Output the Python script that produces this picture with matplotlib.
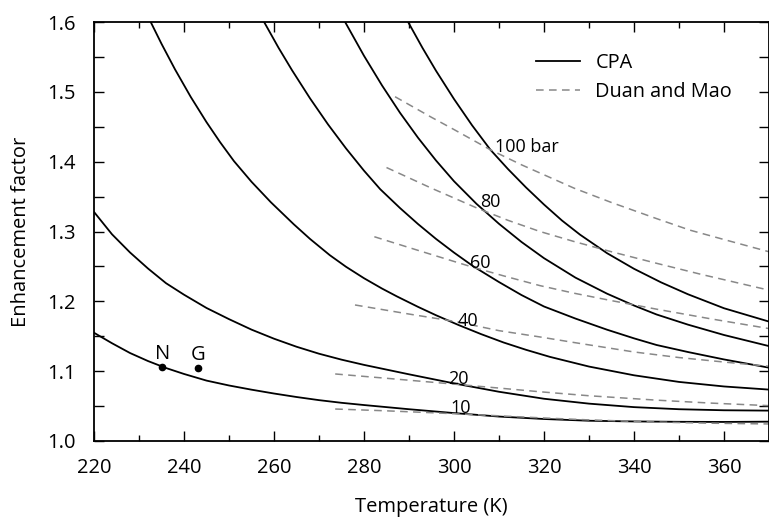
import matplotlib
matplotlib.use("Agg")
import matplotlib.pyplot as plt
from matplotlib.ticker import MultipleLocator, FormatStrFormatter

# -------------------------------
# DATA
# -------------------------------
# CPA curves: temperature (K) vs enhancement factor
cpa_10_T = [220, 224, 228, 232, 236, 240, 245, 250, 255, 260, 265, 270, 275, 280,
            290, 300, 310, 320, 330, 340, 350, 360, 370]
cpa_10_E = [1.155, 1.140, 1.126, 1.1145, 1.1045, 1.096, 1.0865, 1.0795, 1.0735, 1.068,
            1.063, 1.0585, 1.0547, 1.0515, 1.0455, 1.040, 1.035, 1.0315, 1.029, 1.028,
            1.0275, 1.0273, 1.0277]

cpa_20_T = [220, 224, 228, 232, 236, 240, 245, 250, 255, 260, 265, 270, 275, 280,
            290, 300, 310, 320, 330, 340, 350, 360, 370]
cpa_20_E = [1.328, 1.296, 1.270, 1.247, 1.226, 1.2095, 1.1905, 1.1745, 1.1595, 1.1465,
            1.135, 1.125, 1.1165, 1.109, 1.0955, 1.0825, 1.0705, 1.0605, 1.0535, 1.0485,
            1.0455, 1.044, 1.0435]

cpa_40_T = [232.6, 235, 238, 241.5, 245, 248, 251.1, 255, 259.3, 264.4, 268, 272.4,
            276, 280, 284, 287.3, 292, 296, 301, 306, 311, 316, 321.3, 330, 340, 350,
            360, 370]
cpa_40_E = [1.600, 1.5688, 1.5322, 1.4927, 1.4566, 1.4281, 1.4008, 1.3712, 1.3419,
            1.3103, 1.2894, 1.2661, 1.2495, 1.2331, 1.2183, 1.2071, 1.1921, 1.1801,
            1.1661, 1.1531, 1.1411, 1.1306, 1.1205, 1.1066, 1.0941, 1.0846, 1.0781,
            1.0736]

cpa_60_T = [257.8, 261, 264, 268, 272, 276, 280, 283.6, 288, 292, 296, 300, 304.3,
            310, 315, 320, 327, 334, 340, 345, 352, 360, 370]
cpa_60_E = [1.600, 1.5632, 1.531, 1.4907, 1.4534, 1.419, 1.3871, 1.3606, 1.3336,
            1.3107, 1.2894, 1.2698, 1.2501, 1.2276, 1.209, 1.1926, 1.1753, 1.1594,
            1.147, 1.1375, 1.1274, 1.1168, 1.105]

cpa_80_T = [275.8, 280, 284, 288, 292, 296, 300, 305, 310, 315, 320, 327, 334, 340,
            345, 352, 360, 370]
cpa_80_E = [1.600, 1.5516, 1.5092, 1.470, 1.4343, 1.4017, 1.372, 1.3396, 1.311, 1.285,
            1.2618, 1.2339, 1.211, 1.194, 1.1812, 1.1666, 1.1518, 1.1359]

cpa_100_T = [289.8, 293, 296, 300, 304, 308.1, 312, 316, 320, 324, 328, 334, 340,
             346, 352, 360, 370]
cpa_100_E = [1.600, 1.5629, 1.5302, 1.4897, 1.4522, 1.417, 1.3894, 1.3631, 1.3386,
             1.3157, 1.2955, 1.269, 1.2466, 1.2272, 1.2101, 1.1901, 1.171]

# Duan and Mao curves
dm_10_T = [273.6, 285, 294.7, 305, 319.1, 330, 345, 357, 370]
dm_10_E = [1.0458, 1.0432, 1.0406, 1.0376, 1.0332, 1.0302, 1.0271, 1.0255, 1.0244]

dm_20_T = [273.6, 285, 297.6, 310, 319.1, 330, 345, 357, 370]
dm_20_E = [1.096, 1.0898, 1.0828, 1.0758, 1.0705, 1.0648, 1.0585, 1.0543, 1.0506]

dm_40_T = [278, 290, 300.4, 310, 319.1, 326.7, 340, 350, 360.6, 370]
dm_40_E = [1.1948, 1.1818, 1.171, 1.158, 1.149, 1.141, 1.1275, 1.1195, 1.1127, 1.107]

dm_60_T = [282.3, 292, 303.7, 311, 319.1, 326.7, 335, 345, 357, 370]
dm_60_E = [1.2925, 1.273, 1.2498, 1.2365, 1.2225, 1.2116, 1.201, 1.1888, 1.175, 1.161]

dm_80_T = [285, 295, 305.2, 312, 319.1, 326.7, 335, 345, 355, 370]
dm_80_E = [1.3916, 1.362, 1.3333, 1.316, 1.300, 1.2856, 1.271, 1.2545, 1.2385, 1.216]

dm_100_T = [286.9, 295, 300, 308.1, 315, 326.7, 335, 345, 352.4, 360, 370]
dm_100_E = [1.493, 1.4635, 1.446, 1.417, 1.3955, 1.362, 1.3415, 1.3185, 1.302, 1.2885, 1.271]

pressure_labels = ["10", "20", "40", "60", "80", "100 bar"]
label_T = [299.1, 298.7, 300.8, 303.6, 305.8, 309.1]
label_E = [1.0473, 1.0893, 1.172, 1.255, 1.342, 1.421]

point_names = ["N", "G"]
point_T = [235.2, 243.2]
point_E = [1.106, 1.105]

# -------------------------------
# FIGURE
# -------------------------------
plt.rcParams["font.family"] = ["Open Sans", "DejaVu Sans"]
plt.rcParams["font.size"] = 14

fig = plt.figure(figsize=(7.69, 5.17), dpi=100)
ax = fig.add_axes([94 / 769, 1 - 441 / 517, 1 - 94 / 769, (441 - 22) / 517])

cpa = [(cpa_10_T, cpa_10_E), (cpa_20_T, cpa_20_E), (cpa_40_T, cpa_40_E),
       (cpa_60_T, cpa_60_E), (cpa_80_T, cpa_80_E), (cpa_100_T, cpa_100_E)]
dm = [(dm_10_T, dm_10_E), (dm_20_T, dm_20_E), (dm_40_T, dm_40_E),
      (dm_60_T, dm_60_E), (dm_80_T, dm_80_E), (dm_100_T, dm_100_E)]

for i, (t, e) in enumerate(cpa):
    ax.plot(t, e, color="black", lw=1.3, label="CPA" if i == 0 else None)
for i, (t, e) in enumerate(dm):
    ax.plot(t, e, color="#888888", lw=1.1, ls=(0, (5, 3.5)),
            label="Duan and Mao" if i == 0 else None)

for txt, t, e in zip(pressure_labels, label_T, label_E):
    ax.text(t, e, txt, fontsize=13, va="center", ha="left")

ax.plot(point_T, point_E, "o", color="black", ms=4.5)
for name, t, e in zip(point_names, point_T, point_E):
    ax.text(t, e + 0.004, name, fontsize=14.5, ha="center", va="bottom")

ax.set_xlim(220, 370)
ax.set_ylim(1.0, 1.6)
ax.xaxis.set_major_locator(MultipleLocator(20))
ax.xaxis.set_minor_locator(MultipleLocator(10))
ax.yaxis.set_major_locator(MultipleLocator(0.1))
ax.yaxis.set_minor_locator(MultipleLocator(0.05))
ax.yaxis.set_major_formatter(FormatStrFormatter("%.1f"))
ax.tick_params(which="both", direction="in", top=True, right=True, width=1.0)
ax.tick_params(which="major", length=7)
ax.tick_params(which="minor", length=4)
ax.tick_params(axis="y", which="minor", length=7)
ax.tick_params(axis="x", pad=12, labelsize=14.5)
ax.tick_params(axis="y", pad=13, labelsize=14.5)
for s in ax.spines.values():
    s.set_linewidth(1.3)

ax.set_xlabel("Temperature (K)", fontsize=14.5, labelpad=14)
ax.set_ylabel("Enhancement factor", fontsize=14.5, labelpad=12)

ax.legend(loc="upper right", frameon=False, fontsize=14.3, handlelength=2.2,
          bbox_to_anchor=(0.972, 0.968), labelspacing=0.45, handletextpad=0.8)

fig.savefig("out.png", dpi=100)
